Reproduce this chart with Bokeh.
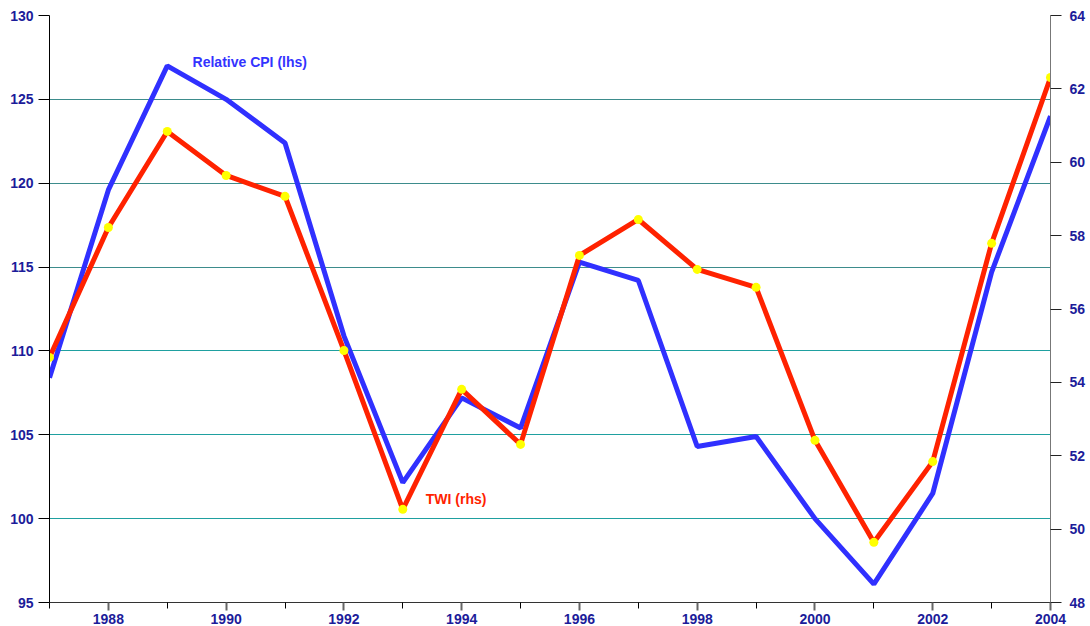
from bokeh.plotting import figure
from bokeh.models import Range1d, LinearAxis, FixedTicker, Grid
from bokeh.core.properties import value
from bokeh.embed import file_html
from bokeh.resources import INLINE

years = list(range(1987, 2005))
cpi = [108.4, 119.6, 127.0, 125.0, 122.4, 110.9, 102.15, 107.2, 105.4, 115.3,
       114.2, 104.3, 104.9, 100.0, 96.1, 101.5, 114.7, 124.0]
twi = [54.68, 58.22, 60.84, 59.64, 59.07, 54.87, 50.54, 53.81, 52.31, 57.46,
       58.44, 57.08, 56.59, 52.42, 49.64, 51.84, 57.79, 62.31]
left_ticks = [95, 100, 105, 110, 115, 120, 125, 130]
right_ticks = [48, 50, 52, 54, 56, 58, 60, 62, 64]
x_major = [1988, 1990, 1992, 1994, 1996, 1998, 2000, 2002, 2004]
x_minor = [1987, 1989, 1991, 1993, 1995, 1997, 1999, 2001, 2003]
grid_upper = [115, 120, 125, 130]
grid_lower = [100, 105, 110]

FONT = "Liberation Sans"
LABEL = "#1c1c9a"

p = figure(width=1090, height=626, output_backend="svg", toolbar_location=None,
           x_range=Range1d(1987, 2004), y_range=Range1d(95, 130),
           min_border_left=49, min_border_right=40, min_border_top=15, min_border_bottom=24)
p.outline_line_color = None
p.background_fill_color = "white"
p.border_fill_color = "white"
p.extra_y_ranges = {"rhs": Range1d(48, 64)}

# grid
p.xgrid.visible = False
p.ygrid.visible = False
p.add_layout(Grid(dimension=1, ticker=FixedTicker(ticks=grid_upper),
                  grid_line_color="#3d8c8c", grid_line_width=1))
p.add_layout(Grid(dimension=1, ticker=FixedTicker(ticks=grid_lower),
                  grid_line_color="#1fa0a0", grid_line_width=1))

# left axis
la = p.yaxis[0]
la.ticker = FixedTicker(ticks=left_ticks)
la.axis_line_color = "black"
la.major_tick_line_color = "black"
la.major_tick_out = 11
la.major_tick_in = 0
la.minor_tick_line_color = None
la.major_label_standoff = 5
la.major_label_text_font = FONT
la.major_label_text_font_style = "bold"
la.major_label_text_font_size = "14px"
la.major_label_text_color = LABEL

# right axis
ra = LinearAxis(y_range_name="rhs", ticker=FixedTicker(ticks=right_ticks))
ra.axis_line_color = "#777777"
ra.major_tick_line_color = "#222222"
ra.major_tick_out = 11
ra.major_tick_in = 0
ra.minor_tick_line_color = None
ra.major_label_standoff = 8
ra.major_label_text_font = FONT
ra.major_label_text_font_style = "bold"
ra.major_label_text_font_size = "14px"
ra.major_label_text_color = LABEL
p.add_layout(ra, "right")

# bottom axis
xa = p.xaxis[0]
xa.ticker = FixedTicker(ticks=x_major, minor_ticks=x_minor)
xa.axis_line_color = "#333333"
xa.major_tick_line_color = "#666666"
xa.major_tick_line_width = 2
xa.major_tick_out = 8
xa.major_tick_in = 0
xa.minor_tick_line_color = "black"
xa.minor_tick_out = 6
xa.minor_tick_in = 0
xa.major_label_standoff = 3
xa.major_label_text_font = FONT
xa.major_label_text_font_style = "bold"
xa.major_label_text_font_size = "14px"
xa.major_label_text_color = LABEL

# series
p.line(years, cpi, line_color="#3030ff", line_width=5)
p.line(years, twi, line_color="#ff2200", line_width=5, y_range_name="rhs")
p.scatter(years, twi, size=9, fill_color="#ffff00", line_color=None, y_range_name="rhs")

p.text(x=[1989.43], y=[127.2], text=["Relative CPI (lhs)"], text_color="#3333ff",
       text_font=value(FONT), text_font_style="bold", text_font_size="14px",
       text_baseline="middle", text_align="left")
p.text(x=[1993.39], y=[101.2], text=["TWI (rhs)"], text_color="#ff2200",
       text_font=value(FONT), text_font_style="bold", text_font_size="14px",
       text_baseline="middle", text_align="left")

open("out.html", "w").write(file_html(p, INLINE))
